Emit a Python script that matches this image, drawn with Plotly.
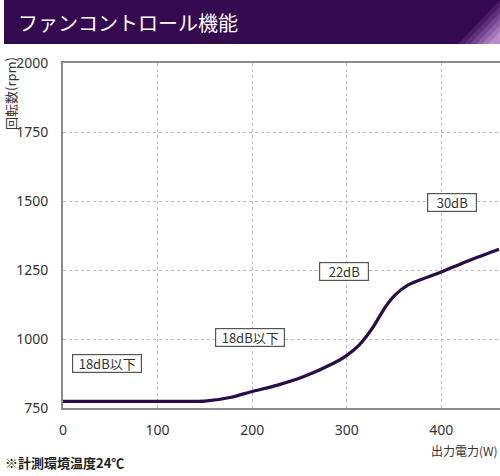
import plotly.graph_objects as go

# power output (W) vs fan speed (rpm)
power_w = [0, 60, 120, 150, 178, 199, 227, 254, 286, 299, 313, 327, 341, 351, 365, 398, 426, 461]
fan_rpm = [774, 774, 774, 775, 789, 809, 833, 863, 912, 938, 978, 1039, 1117, 1159, 1196, 1240, 1280, 1325]

x_ticks = [0, 100, 200, 300, 400]
y_ticks = [750, 1000, 1250, 1500, 1750, 2000]

# noise level labels: (text, power, rpm, box width)
noise_labels = [
    ("18dB以下", 46, 913, 66),
    ("18dB以下", 198, 1004, 66),
    ("22dB", 297, 1246, 46),
    ("30dB", 411, 1493, 46),
]

W, H = 500, 476
L, R, T, B = 63, 0, 63, 68
PW, PH = W - L - R, H - T - B

def px(x):
    return (x - L) / PW

def py(y):
    return (H - B - y) / PH

TICK_FONT = dict(family="Noto Sans, Liberation Sans, sans-serif", size=14, color="#333333")
JP = "Noto Sans CJK JP"
PURPLE = "#35094f"

fig = go.Figure()
fig.add_trace(go.Scatter(
    x=power_w, y=fan_rpm,
    mode="lines",
    line=dict(color="#2a0c48", width=3.2, shape="spline", smoothing=0.6),
    showlegend=False, hoverinfo="skip",
))

shapes = [dict(type="rect", xref="paper", yref="paper",
               x0=px(4), x1=px(W), y0=py(44), y1=py(0),
               fillcolor=PURPLE, line=dict(width=0), layer="above")]

# lighter corner at the right end of the header band
corner = ["#4a1c66", "#5f2f7c", "#764591", "#8d5ca6", "#a475b8", "#b98dc9"]
for i, c in enumerate(corner):
    x0 = 458 + i * 6
    top = 44 - (W - x0) * 44 / 42
    shapes.append(dict(type="path", xref="paper", yref="paper",
                       path=f"M {px(x0)},{py(44)} L {px(W)},{py(44)} L {px(W)},{py(max(top, 0))} Z",
                       fillcolor=c, line=dict(width=0), layer="above"))

annotations = [
    dict(text="ファンコントロール機能", xref="paper", yref="paper",
         x=px(16), y=py(23), xanchor="left", yanchor="middle", showarrow=False,
         font=dict(family=JP, size=20, color="white")),
    dict(text="回転数(rpm)", xref="paper", yref="paper",
         x=px(10), y=py(94), xanchor="center", yanchor="middle", textangle=-90,
         showarrow=False, font=dict(family=JP, size=13, color="#333333")),
    dict(text="出力電力(W)", xref="paper", yref="paper",
         x=1.0, y=py(450), xanchor="right", yanchor="middle", showarrow=False,
         font=dict(family=JP, size=12, color="#333333")),
    dict(text="<b>※計測環境温度24℃</b>", xref="paper", yref="paper",
         x=px(3), y=py(462), xanchor="left", yanchor="middle", showarrow=False,
         font=dict(family=JP, size=13, color="#222222")),
]
for text, xv, yv, w in noise_labels:
    annotations.append(dict(
        text=text, x=xv, y=yv, xref="x", yref="y", showarrow=False,
        width=w, height=15, borderpad=1,
        bgcolor="white", bordercolor="#555555", borderwidth=1.2,
        font=dict(family=JP, size=13, color="#333333"),
    ))

fig.update_layout(
    width=W, height=H,
    margin=dict(l=L, r=R, t=T, b=B),
    paper_bgcolor="white", plot_bgcolor="white",
    shapes=shapes, annotations=annotations,
    xaxis=dict(range=[0, 462], tickvals=x_ticks, showgrid=True,
               gridcolor="#bbbbbb", griddash="dot", gridwidth=1,
               showline=True, mirror=True, linecolor="#8a8a8a", linewidth=2,
               zeroline=False, ticks="", ticklabelstandoff=8, tickfont=TICK_FONT),
    yaxis=dict(range=[750, 2000], tickvals=y_ticks, showgrid=True,
               gridcolor="#bbbbbb", griddash="dot", gridwidth=1,
               showline=True, linecolor="#8a8a8a", linewidth=2,
               zeroline=False, ticks="", ticklabelstandoff=10, tickfont=TICK_FONT),
)

# page body has a default 8px margin; drop it so the figure sits at the corner
fig.write_html("out.html", config={"displayModeBar": False},
               post_script="document.body.style.margin='0';")
